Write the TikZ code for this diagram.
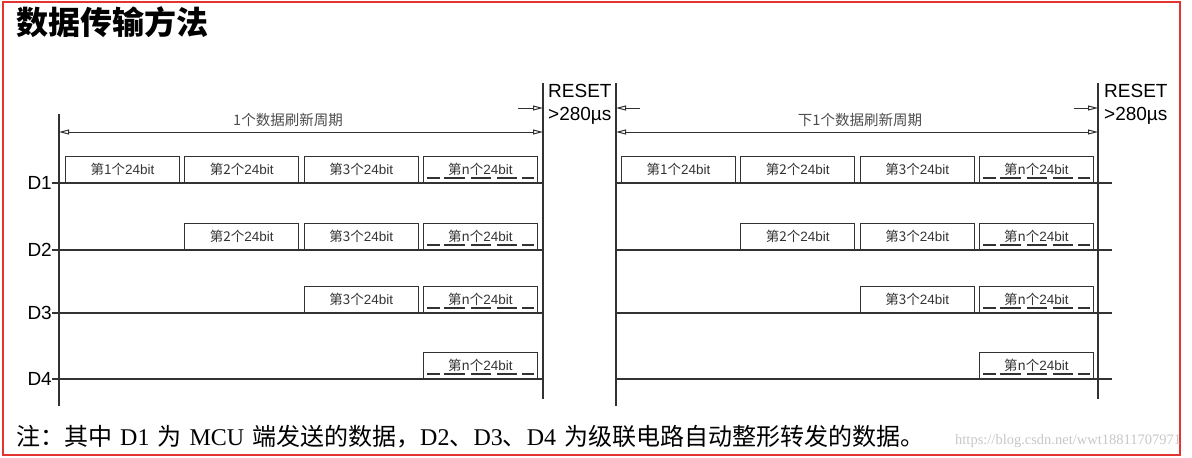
\documentclass[tikz,border=0pt]{standalone}
\usepackage{fontspec}
\setmainfont{Liberation Serif}
\setsansfont{Liberation Sans}
\newfontfamily\cjk{Noto Sans CJK SC}
\usetikzlibrary{arrows.meta}

\definecolor{ink}{RGB}{50,50,50}
\definecolor{framered}{RGB}{228,52,48}

\begin{document}
\begin{tikzpicture}[x=1pt,y=-1pt,
  wire/.style={draw=ink,line width=1.25pt},
  slot/.style={draw=ink,line width=1.1pt,minimum width=114pt,minimum height=26pt,
    inner sep=0pt,anchor=south west,text=black!80,font=\fontsize{13.5}{14}\selectfont},
  sig/.style={anchor=east,inner sep=0pt,font=\sffamily\fontsize{19}{19}\selectfont},
  tip/.style={ink,line width=1pt},
  reset/.style={anchor=north west,inner sep=0pt,align=left,font=\sffamily\fontsize{19}{23}\selectfont},
  period/.style={above=1pt,text=black!70,font=\cjk\fontsize{14.5}{15}\selectfont}]
\useasboundingbox (0,0) rectangle (1192,458);

% Frame and title
\draw[framered,line width=2pt] (3,2) rectangle (1180,455);
\node[anchor=west,inner sep=0pt,font=\cjk\bfseries\fontsize{32}{32}\selectfont] (title) at (16,22) {数据传输方法};

% Frame borders of the two refresh periods
\draw[wire] (59,114) -- (59,406);
\draw[wire] (543,83) -- (543,399);
\draw[wire] (616,83) -- (616,406);
\draw[wire] (1098,83) -- (1098,399);

% Refresh period
\draw[tip,{Triangle[open,length=10pt,width=5pt]}-{Triangle[open,length=10pt,width=5pt]}] (59,132) -- (543,132)
  node[midway,period,xshift=-13pt] (per1) {1个数据刷新周期};
\draw[tip,{Triangle[open,length=10pt,width=5pt]}-{Triangle[open,length=10pt,width=5pt]}] (616,132) -- (1098,132)
  node[midway,period,xshift=3pt] (per2) {下1个数据刷新周期};

% Reset gap
\draw[tip,-{Triangle[open,length=10pt,width=5pt]}] (518,108) -- (543,108);
\draw[tip,-{Triangle[open,length=10pt,width=5pt]}] (640,108) -- (616,108);
\draw[tip,-{Triangle[open,length=10pt,width=5pt]}] (1074,108) -- (1098,108);
\node[reset] (rst1) at (548,84) {RESET\\>280µs};
\node[reset] (rst2) at (1104,84) {RESET\\>280µs};

% Data lines D1..D4 with their 24bit slots
\foreach \r/\y in {1/183,2/250,3/313,4/379} {
  \node[sig] (D\r) at (52,\y) {D\r};
  \draw[wire] (D\r.east) -- (543,\y);
  \draw[wire] (616,\y) -- (1112,\y);
  \foreach \k in {\r,...,4} {
    \foreach \h/\ox in {L/0,R/556} {
      \node[slot] (\h-\r-\k) at ({65+\ox+(\k-1)*119.3},\y)
        {{\cjk 第\ifnum\k=4 n\else\k\fi 个}{\sffamily 24bit}};
    }
  }
  \foreach \h in {L,R}
    \foreach \a/\b in {4/17,21/42,48/68,74/94,99/111}
      \draw[ink,line width=2.6pt] ([shift={(\a,-5)}]\h-\r-4.south west) -- ([shift={(\b,-5)}]\h-\r-4.south west);
}

% Note
\node[anchor=west,inner sep=0pt,font=\fontsize{24}{24}\selectfont] (note) at (16,437)
  {{\cjk 注：其中}\hspace{8pt}D1\hspace{8pt}{\cjk 为}\hspace{8pt}MCU\hspace{8pt}{\cjk 端发送的数据，}D2{\cjk 、}D3{\cjk 、}D4\hspace{8pt}{\cjk 为级联电路自动整形转发的数据。}};
\node[anchor=west,inner sep=0pt,text=black!22,font=\fontsize{14.5}{14.5}\selectfont] (mark) at (955,441)
  {https://blog.csdn.net/wwt18811707971};
\end{tikzpicture}
\end{document}
